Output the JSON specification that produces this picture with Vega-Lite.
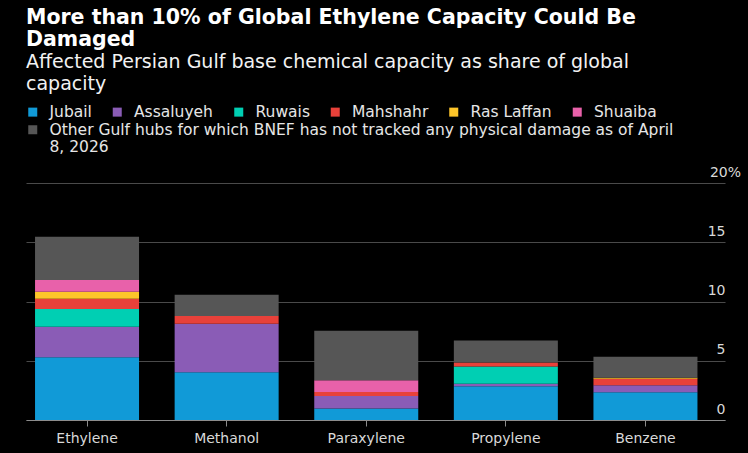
{
  "$schema": "https://vega.github.io/schema/vega-lite/v6.json",
  "width": 699,
  "height": 237,
  "autosize": {"type": "none"},
  "padding": {"top": 183, "left": 26, "right": 23, "bottom": 33},
  "background": "#000000",
  "title": {
    "text": ["More than 10% of Global Ethylene Capacity Could Be", "Damaged"],
    "subtitle": ["Affected Persian Gulf base chemical capacity as share of global", "capacity"],
    "anchor": "start",
    "frame": "group",
    "font": "DejaVu Sans",
    "fontSize": 20.5,
    "fontWeight": "bold",
    "color": "#ffffff",
    "lineHeight": 22.2,
    "subtitleFont": "DejaVu Sans",
    "subtitleFontSize": 19,
    "subtitleColor": "#f2f2f2",
    "subtitleLineHeight": 21.6,
    "subtitlePadding": 2.5,
    "offset": 10
  },
  "data": {
    "values": [
      {"chemical": "Ethylene", "hub": "Jubail", "k": 1, "share": 5.29},
      {"chemical": "Ethylene", "hub": "Assaluyeh", "k": 2, "share": 2.58},
      {"chemical": "Ethylene", "hub": "Ruwais", "k": 3, "share": 1.49},
      {"chemical": "Ethylene", "hub": "Mahshahr", "k": 4, "share": 0.87},
      {"chemical": "Ethylene", "hub": "Ras Laffan", "k": 5, "share": 0.59},
      {"chemical": "Ethylene", "hub": "Shuaiba", "k": 6, "share": 0.99},
      {"chemical": "Ethylene", "hub": "Other Gulf hubs for which BNEF has not tracked any physical damage as of April 8, 2026", "k": 7, "share": 3.65},
      {"chemical": "Methanol", "hub": "Jubail", "k": 1, "share": 4.03},
      {"chemical": "Methanol", "hub": "Assaluyeh", "k": 2, "share": 4.10},
      {"chemical": "Methanol", "hub": "Mahshahr", "k": 4, "share": 0.65},
      {"chemical": "Methanol", "hub": "Other Gulf hubs for which BNEF has not tracked any physical damage as of April 8, 2026", "k": 7, "share": 1.80},
      {"chemical": "Paraxylene", "hub": "Jubail", "k": 1, "share": 0.98},
      {"chemical": "Paraxylene", "hub": "Assaluyeh", "k": 2, "share": 1.04},
      {"chemical": "Paraxylene", "hub": "Mahshahr", "k": 4, "share": 0.34},
      {"chemical": "Paraxylene", "hub": "Shuaiba", "k": 6, "share": 0.99},
      {"chemical": "Paraxylene", "hub": "Other Gulf hubs for which BNEF has not tracked any physical damage as of April 8, 2026", "k": 7, "share": 4.19},
      {"chemical": "Propylene", "hub": "Jubail", "k": 1, "share": 2.85},
      {"chemical": "Propylene", "hub": "Assaluyeh", "k": 2, "share": 0.20},
      {"chemical": "Propylene", "hub": "Ruwais", "k": 3, "share": 1.46},
      {"chemical": "Propylene", "hub": "Mahshahr", "k": 4, "share": 0.34},
      {"chemical": "Propylene", "hub": "Other Gulf hubs for which BNEF has not tracked any physical damage as of April 8, 2026", "k": 7, "share": 1.86},
      {"chemical": "Benzene", "hub": "Jubail", "k": 1, "share": 2.35},
      {"chemical": "Benzene", "hub": "Assaluyeh", "k": 2, "share": 0.59},
      {"chemical": "Benzene", "hub": "Mahshahr", "k": 4, "share": 0.54},
      {"chemical": "Benzene", "hub": "Ras Laffan", "k": 5, "share": 0.08},
      {"chemical": "Benzene", "hub": "Other Gulf hubs for which BNEF has not tracked any physical damage as of April 8, 2026", "k": 7, "share": 1.77}
    ]
  },
  "encoding": {
    "x": {
      "field": "chemical",
      "type": "nominal",
      "sort": ["Ethylene", "Methanol", "Paraxylene", "Propylene", "Benzene"],
      "scale": {"paddingInner": 0.255, "paddingOuter": 0.131, "align": 0.247},
      "axis": {
        "title": null,
        "labelAngle": 0,
        "labelFont": "DejaVu Sans",
        "labelFontSize": 14,
        "labelColor": "#d9d9d9",
        "labelPadding": 5,
        "domain": true,
        "domainColor": "#8c8c8c",
        "domainWidth": 1,
        "ticks": true,
        "tickColor": "#8c8c8c",
        "tickSize": 6,
        "grid": false
      }
    }
  },
  "layer": [
    {
      "mark": {"type": "bar", "strokeWidth": 0},
      "encoding": {
        "y": {
          "field": "share",
          "type": "quantitative",
          "stack": "zero",
          "scale": {"domain": [0, 20], "nice": false},
          "axis": {
            "orient": "right",
            "title": null,
            "values": [0, 5, 10, 15, 20],
            "labelExpr": "datum.value == 20 ? '20%' : datum.label",
            "labelAlign": {"condition": {"test": "datum.value == 20", "value": "center"}, "value": "right"},
            "labelBaseline": "alphabetic",
            "labelOffset": -7,
            "labelPadding": 0,
            "labelFont": "DejaVu Sans",
            "labelFontSize": 14,
            "labelColor": "#d9d9d9",
            "ticks": false,
            "domain": false,
            "grid": true,
            "gridColor": "#4a4a4a",
            "gridWidth": 1
          }
        },
        "color": {
          "field": "hub",
          "type": "nominal",
          "scale": {
            "domain": ["Jubail", "Assaluyeh", "Ruwais", "Mahshahr", "Ras Laffan", "Shuaiba", "Other Gulf hubs for which BNEF has not tracked any physical damage as of April 8, 2026"],
            "range": ["#119ad7", "#8a5cb6", "#00cfb3", "#e8413a", "#fdc52a", "#e861aa", "#565656"]
          },
          "legend": {
            "title": null,
            "orient": "none",
            "legendX": -1,
            "legendY": -79,
            "direction": "horizontal",
            "values": ["Jubail", "Assaluyeh", "Ruwais", "Mahshahr", "Ras Laffan", "Shuaiba"],
            "padding": 0,
            "symbolType": "square",
            "symbolSize": 81,
            "symbolStrokeWidth": 0,
            "symbolOpacity": 1,
            "labelFont": "DejaVu Sans",
            "labelFontSize": 15.5,
            "labelColor": "#e6e6e6",
            "labelLimit": 800,
            "labelOffset": 9,
            "columnPadding": 17.5
          }
        },
        "order": {"field": "k", "type": "quantitative", "sort": "ascending"}
      }
    },
    {
      "transform": [{"filter": "datum.k == 7"}],
      "mark": {"type": "point", "filled": true, "opacity": 0, "shape": "square"},
      "encoding": {
        "y": {"field": "share", "type": "quantitative", "stack": null},
        "color": {
          "field": "hub",
          "type": "nominal",
          "scale": {
            "domain": ["Other Gulf hubs for which BNEF has not tracked any physical damage as of April 8, 2026"],
            "range": ["#565656"]
          },
          "legend": {
            "title": null,
            "orient": "none",
            "legendX": -1,
            "legendY": -61,
            "padding": 0,
            "symbolType": "square",
            "symbolSize": 81,
            "symbolStrokeWidth": 0,
            "symbolOpacity": 1,
            "labelFont": "DejaVu Sans",
            "labelFontSize": 15.5,
            "labelColor": "#e6e6e6",
            "labelLimit": 800,
            "labelOffset": 9,
            "labelLineHeight": 18.2,
            "labelBaseline": "middle",
            "labelExpr": "['Other Gulf hubs for which BNEF has not tracked any physical damage as of April', '8, 2026']"
          }
        }
      }
    }
  ],
  "resolve": {"scale": {"color": "independent"}},
  "config": {
    "view": {"stroke": null}
  }
}
